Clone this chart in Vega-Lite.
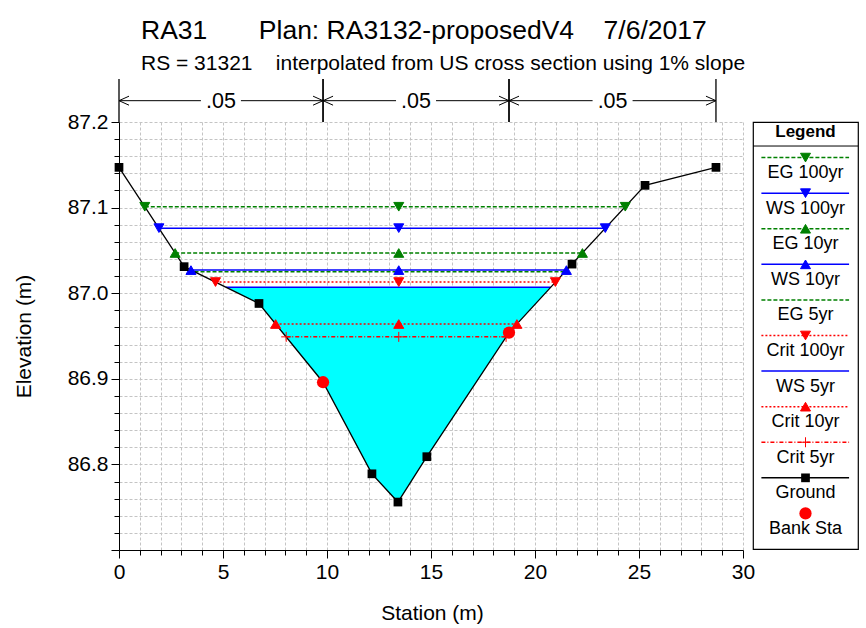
{
  "$schema": "https://vega.github.io/schema/vega-lite/v6.json",
  "autosize": {"type": "none"},
  "padding": {"left": 119, "top": 122, "right": 747, "bottom": 506},
  "background": "white",
  "config": {
    "font": "Liberation Sans",
    "view": {"stroke": null},
    "axis": {"labelColor": "black", "titleColor": "black", "tickColor": "black", "domainColor": "black", "titleFontWeight": "normal"},
    "title": {"color": "black", "subtitleColor": "black", "fontWeight": "normal"},
    "text": {"color": "black"}
  },
  "datasets": {
    "ground": [
      {"sta": 0, "elev": 87.147, "type": "Ground"},
      {"sta": 3.13, "elev": 87.031, "type": "Ground"},
      {"sta": 6.73, "elev": 86.988, "type": "Ground"},
      {"sta": 9.81, "elev": 86.896, "type": "Bank Sta"},
      {"sta": 12.16, "elev": 86.789, "type": "Ground"},
      {"sta": 13.41, "elev": 86.756, "type": "Ground"},
      {"sta": 14.8, "elev": 86.809, "type": "Ground"},
      {"sta": 18.75, "elev": 86.954, "type": "Bank Sta"},
      {"sta": 21.78, "elev": 87.034, "type": "Ground"},
      {"sta": 25.29, "elev": 87.126, "type": "Ground"},
      {"sta": 28.7, "elev": 87.147, "type": "Ground"}
    ],
    "water": [
      {"sta": 5.14, "elev": 87.007, "ws": 87.007},
      {"sta": 6.73, "elev": 86.988, "ws": 87.007},
      {"sta": 9.81, "elev": 86.896, "ws": 87.007},
      {"sta": 12.16, "elev": 86.789, "ws": 87.007},
      {"sta": 13.41, "elev": 86.756, "ws": 87.007},
      {"sta": 14.8, "elev": 86.809, "ws": 87.007},
      {"sta": 18.75, "elev": 86.954, "ws": 87.007},
      {"sta": 20.76, "elev": 87.007, "ws": 87.007}
    ],
    "profiles": [
      {"profile": "EG 100yr", "elev": 87.101, "left": 1.24, "mid": 13.45, "right": 24.34},
      {"profile": "WS 100yr", "elev": 87.076, "left": 1.92, "mid": 13.45, "right": 23.38},
      {"profile": "EG 10yr", "elev": 87.047, "left": 2.7, "mid": 13.45, "right": 22.28},
      {"profile": "WS 10yr", "elev": 87.027, "left": 3.46, "mid": 13.45, "right": 21.51},
      {"profile": "EG 5yr", "elev": 87.025, "left": 3.63, "mid": 13.45, "right": 21.44},
      {"profile": "Crit 100yr", "elev": 87.013, "left": 4.64, "mid": 13.45, "right": 20.98},
      {"profile": "WS 5yr", "elev": 87.007, "left": 5.14, "mid": 13.45, "right": 20.76},
      {"profile": "Crit 10yr", "elev": 86.964, "left": 7.53, "mid": 13.45, "right": 19.13},
      {"profile": "Crit 5yr", "elev": 86.949, "left": 8.04, "mid": 13.45, "right": 18.61}
    ],
    "roughness": [
      {"left": 0, "right": 9.81, "mid": 4.9, "n": ".05"},
      {"left": 9.81, "right": 18.75, "mid": 14.28, "n": ".05"},
      {"left": 18.75, "right": 28.7, "mid": 23.73, "n": ".05"}
    ],
    "legend": [
      {"profile": "EG 100yr", "idx": 0},
      {"profile": "WS 100yr", "idx": 1},
      {"profile": "EG 10yr", "idx": 2},
      {"profile": "WS 10yr", "idx": 3},
      {"profile": "EG 5yr", "idx": 4},
      {"profile": "Crit 100yr", "idx": 5},
      {"profile": "WS 5yr", "idx": 6},
      {"profile": "Crit 10yr", "idx": 7},
      {"profile": "Crit 5yr", "idx": 8},
      {"profile": "Ground", "idx": 9},
      {"profile": "Bank Sta", "idx": 10}
    ]
  },
  "spacing": 10,
  "bounds": "flush",
  "hconcat": [
    {
      "width": 624,
      "height": 428,
      "title": {
        "text": "RA31\u00a0\u00a0\u00a0\u00a0\u00a0\u00a0\u00a0Plan: RA3132-proposedV4\u00a0\u00a0\u00a0\u00a07/6/2017",
        "subtitle": "RS = 31321\u00a0\u00a0\u00a0\u00a0interpolated from US cross section using 1% slope",
        "anchor": "start",
        "frame": "group",
        "dx": 22,
        "fontSize": 26.5,
        "subtitleFontSize": 21,
        "subtitlePadding": 9,
        "offset": 4
      },
      "encoding": {
        "x": {
          "type": "quantitative",
          "scale": {"domain": [0, 30], "nice": false, "zero": false},
          "axis": {
            "values": [0,1,2,3,4,5,6,7,8,9,10,11,12,13,14,15,16,17,18,19,20,21,22,23,24,25,26,27,28,29,30],
            "grid": true, "gridDash": [3, 2], "gridColor": "#c4c4c4", "gridWidth": 1,
            "tickSize": {"condition": {"test": "datum.value % 5 === 0", "value": 8}, "value": 5},
            "labelExpr": "datum.value % 5 === 0 ? datum.label : ''",
            "labelFontSize": 21, "labelPadding": 3, "labelFlush": false, "labelOverlap": false,
            "title": "Station (m)", "titleFontSize": 21,
            "titleX": 313, "titleY": 63, "titleAlign": "center", "titleBaseline": "middle"
          }
        },
        "y": {
          "type": "quantitative",
          "scale": {"domain": [86.7, 87.2], "nice": false, "zero": false},
          "axis": {
            "values": [86.7,86.72,86.74,86.76,86.78,86.8,86.82,86.84,86.86,86.88,86.9,86.92,86.94,86.96,86.98,87,87.02,87.04,87.06,87.08,87.1,87.12,87.14,87.16,87.18,87.2],
            "grid": true, "gridDash": [3, 2], "gridColor": "#c4c4c4", "gridWidth": 1,
            "tickSize": {"condition": {"test": "abs(datum.value*10 - round(datum.value*10)) < 0.001", "value": 8}, "value": 5},
            "labelExpr": "abs(datum.value*10 - round(datum.value*10)) < 0.001 && datum.value > 86.75 ? format(datum.value, '.1f') : ''",
            "labelFontSize": 21, "labelPadding": 3, "labelOverlap": false, "labelFlush": false,
            "title": "Elevation (m)", "titleFontSize": 21,
            "titleX": -95, "titleY": 214, "titleAlign": "center", "titleBaseline": "middle", "titleAngle": 270
          }
        }
      },
      "layer": [
        {
          "data": {"name": "water"},
          "mark": {"type": "area", "color": "#00ffff", "opacity": 1},
          "encoding": {
            "x": {"field": "sta"},
            "y": {"field": "elev"},
            "y2": {"field": "ws"}
          }
        },
        {
          "data": {"name": "profiles"},
          "mark": {"type": "rule", "strokeWidth": 1.5},
          "encoding": {
            "x": {"field": "left"},
            "x2": {"field": "right"},
            "y": {"field": "elev"},
            "color": {"field": "profile", "type": "nominal", "legend": null,
              "scale": {"domain": ["EG 100yr","WS 100yr","EG 10yr","WS 10yr","EG 5yr","Crit 100yr","WS 5yr","Crit 10yr","Crit 5yr","Ground","Bank Sta"],
                        "range": ["#008000","#0000ff","#008000","#0000ff","#008000","#ff0000","#0000ff","#ff0000","#ff0000","#000000","#ff0000"]}},
            "strokeDash": {"field": "profile", "type": "nominal", "legend": null,
              "scale": {"domain": ["EG 100yr","WS 100yr","EG 10yr","WS 10yr","EG 5yr","Crit 100yr","WS 5yr","Crit 10yr","Crit 5yr","Ground","Bank Sta"],
                        "range": [[4,2],[1,0],[4,2],[1,0],[4,2],[2,2],[1,0],[2,2],[4,2,1,2],[1,0],[1,0]]}}
          }
        },
        {
          "data": {"name": "ground"},
          "mark": {"type": "line", "color": "black", "strokeWidth": 1.3},
          "encoding": {
            "x": {"field": "sta"},
            "y": {"field": "elev"}
          }
        },
        {
          "data": {"name": "profiles"},
          "transform": [
            {"filter": "datum.profile !== 'EG 5yr' && datum.profile !== 'WS 5yr'"},
            {"fold": ["left", "mid", "right"], "as": ["end", "sta"]}
          ],
          "mark": {"type": "point", "filled": true, "size": 100, "strokeWidth": 1, "opacity": 1},
          "encoding": {
            "x": {"field": "sta"},
            "y": {"field": "elev"},
            "color": {"field": "profile", "type": "nominal", "legend": null,
              "scale": {"domain": ["EG 100yr","WS 100yr","EG 10yr","WS 10yr","EG 5yr","Crit 100yr","WS 5yr","Crit 10yr","Crit 5yr","Ground","Bank Sta"],
                        "range": ["#008000","#0000ff","#008000","#0000ff","#008000","#ff0000","#0000ff","#ff0000","#ff0000","#000000","#ff0000"]}},
            "stroke": {"field": "profile", "type": "nominal", "legend": null,
              "scale": {"domain": ["EG 100yr","WS 100yr","EG 10yr","WS 10yr","EG 5yr","Crit 100yr","WS 5yr","Crit 10yr","Crit 5yr","Ground","Bank Sta"],
                        "range": ["#008000","#0000ff","#008000","#0000ff","#008000","#ff0000","#0000ff","#ff0000","#ff0000","#000000","#ff0000"]}},
            "shape": {"field": "profile", "type": "nominal", "legend": null,
              "scale": {"domain": ["EG 100yr","WS 100yr","EG 10yr","WS 10yr","EG 5yr","Crit 100yr","WS 5yr","Crit 10yr","Crit 5yr","Ground","Bank Sta"],
                        "range": ["triangle-down","triangle-down","triangle-up","triangle-up","circle","triangle-down","circle","triangle-up","M-1,0H1M0,-1V1","square","circle"]}}
          }
        },
        {
          "data": {"name": "ground"},
          "transform": [{"filter": "datum.type === 'Ground'"}],
          "mark": {"type": "square", "color": "black", "size": 76, "opacity": 1},
          "encoding": {
            "x": {"field": "sta"},
            "y": {"field": "elev"}
          }
        },
        {
          "data": {"name": "ground"},
          "transform": [{"filter": "datum.type === 'Bank Sta'"}],
          "mark": {"type": "circle", "color": "#ff0000", "size": 150, "opacity": 1},
          "encoding": {
            "x": {"field": "sta"},
            "y": {"field": "elev"}
          }
        },
        {
          "data": {"name": "roughness"},
          "mark": {"type": "rule", "color": "black", "strokeWidth": 1, "clip": false},
          "encoding": {
            "x": {"field": "left"},
            "x2": {"field": "right"},
            "y": {"datum": 87.2249}
          }
        },
        {
          "data": {"name": "roughness"},
          "transform": [{"fold": ["left", "right"], "as": ["end", "sta"]}],
          "mark": {"type": "rule", "color": "black", "strokeWidth": 1.3, "clip": false},
          "encoding": {
            "x": {"field": "sta"},
            "y": {"datum": 87.2},
            "y2": {"datum": 87.2502}
          }
        },
        {
          "data": {"name": "roughness"},
          "mark": {"type": "point", "shape": "M2,-0.9L0,0L2,0.9", "filled": false, "color": "black", "size": 100, "strokeWidth": 1, "opacity": 1, "clip": false},
          "encoding": {
            "x": {"field": "left"},
            "y": {"datum": 87.2249}
          }
        },
        {
          "data": {"name": "roughness"},
          "mark": {"type": "point", "shape": "M-2,-0.9L0,0L-2,0.9", "filled": false, "color": "black", "size": 100, "strokeWidth": 1, "opacity": 1, "clip": false},
          "encoding": {
            "x": {"field": "right"},
            "y": {"datum": 87.2249}
          }
        },
        {
          "data": {"name": "roughness"},
          "mark": {"type": "point", "shape": "M-2,-0.6H2V0.6H-2Z", "filled": true, "color": "white", "size": 400, "strokeWidth": 0, "opacity": 1, "clip": false},
          "encoding": {
            "x": {"field": "mid"},
            "y": {"datum": 87.2249}
          }
        },
        {
          "data": {"name": "roughness"},
          "mark": {"type": "text", "fontSize": 21.5, "baseline": "middle", "align": "center", "dy": 1, "clip": false},
          "encoding": {
            "x": {"field": "mid"},
            "y": {"datum": 87.2249},
            "text": {"field": "n"}
          }
        }
      ]
    },
    {
      "width": 105,
      "height": 427,
      "view": {"stroke": "black", "strokeWidth": 1.2},
      "encoding": {
        "x": {"type": "quantitative", "scale": {"domain": [0, 1], "nice": false, "zero": false}, "axis": null},
        "y": {"type": "quantitative", "scale": {"domain": [-1, 11], "reverse": true, "nice": false, "zero": false}, "axis": null}
      },
      "layer": [
        {
          "data": {"values": [{}]},
          "mark": {"type": "text", "text": "Legend", "fontWeight": "bold", "fontSize": 17, "baseline": "middle"},
          "encoding": {
            "x": {"datum": 0.5},
            "y": {"datum": -0.72}
          }
        },
        {
          "data": {"values": [{}]},
          "mark": {"type": "rule", "color": "black", "strokeWidth": 1},
          "encoding": {
            "x": {"datum": 0},
            "x2": {"datum": 1},
            "y": {"datum": -0.325}
          }
        },
        {
          "data": {"name": "legend"},
          "transform": [{"filter": "datum.profile !== 'Bank Sta'"}],
          "mark": {"type": "rule", "strokeWidth": 1.5},
          "encoding": {
            "x": {"datum": 0.08},
            "x2": {"datum": 0.915},
            "y": {"field": "idx"},
            "color": {"field": "profile", "type": "nominal", "legend": null,
              "scale": {"domain": ["EG 100yr","WS 100yr","EG 10yr","WS 10yr","EG 5yr","Crit 100yr","WS 5yr","Crit 10yr","Crit 5yr","Ground","Bank Sta"],
                        "range": ["#008000","#0000ff","#008000","#0000ff","#008000","#ff0000","#0000ff","#ff0000","#ff0000","#000000","#ff0000"]}},
            "strokeDash": {"field": "profile", "type": "nominal", "legend": null,
              "scale": {"domain": ["EG 100yr","WS 100yr","EG 10yr","WS 10yr","EG 5yr","Crit 100yr","WS 5yr","Crit 10yr","Crit 5yr","Ground","Bank Sta"],
                        "range": [[4,2],[1,0],[4,2],[1,0],[4,2],[2,2],[1,0],[2,2],[4,2,1,2],[1,0],[1,0]]}}
          }
        },
        {
          "data": {"name": "legend"},
          "transform": [{"filter": "datum.profile !== 'EG 5yr' && datum.profile !== 'WS 5yr' && datum.profile !== 'Ground' && datum.profile !== 'Bank Sta'"}],
          "mark": {"type": "point", "filled": true, "size": 100, "strokeWidth": 1, "opacity": 1},
          "encoding": {
            "x": {"datum": 0.5},
            "y": {"field": "idx"},
            "color": {"field": "profile", "type": "nominal", "legend": null,
              "scale": {"domain": ["EG 100yr","WS 100yr","EG 10yr","WS 10yr","EG 5yr","Crit 100yr","WS 5yr","Crit 10yr","Crit 5yr","Ground","Bank Sta"],
                        "range": ["#008000","#0000ff","#008000","#0000ff","#008000","#ff0000","#0000ff","#ff0000","#ff0000","#000000","#ff0000"]}},
            "stroke": {"field": "profile", "type": "nominal", "legend": null,
              "scale": {"domain": ["EG 100yr","WS 100yr","EG 10yr","WS 10yr","EG 5yr","Crit 100yr","WS 5yr","Crit 10yr","Crit 5yr","Ground","Bank Sta"],
                        "range": ["#008000","#0000ff","#008000","#0000ff","#008000","#ff0000","#0000ff","#ff0000","#ff0000","#000000","#ff0000"]}},
            "shape": {"field": "profile", "type": "nominal", "legend": null,
              "scale": {"domain": ["EG 100yr","WS 100yr","EG 10yr","WS 10yr","EG 5yr","Crit 100yr","WS 5yr","Crit 10yr","Crit 5yr","Ground","Bank Sta"],
                        "range": ["triangle-down","triangle-down","triangle-up","triangle-up","circle","triangle-down","circle","triangle-up","M-1,0H1M0,-1V1","square","circle"]}}
          }
        },
        {
          "data": {"name": "legend"},
          "transform": [{"filter": "datum.profile === 'Ground'"}],
          "mark": {"type": "square", "color": "black", "size": 76, "opacity": 1},
          "encoding": {
            "x": {"datum": 0.5},
            "y": {"field": "idx"}
          }
        },
        {
          "data": {"name": "legend"},
          "transform": [{"filter": "datum.profile === 'Bank Sta'"}],
          "mark": {"type": "circle", "color": "#ff0000", "size": 150, "opacity": 1},
          "encoding": {
            "x": {"datum": 0.5},
            "y": {"field": "idx"}
          }
        },
        {
          "data": {"name": "legend"},
          "mark": {"type": "text", "fontSize": 18, "baseline": "middle", "align": "center", "dy": 15.5},
          "encoding": {
            "x": {"datum": 0.5},
            "y": {"field": "idx"},
            "text": {"field": "profile"}
          }
        }
      ]
    }
  ]
}
